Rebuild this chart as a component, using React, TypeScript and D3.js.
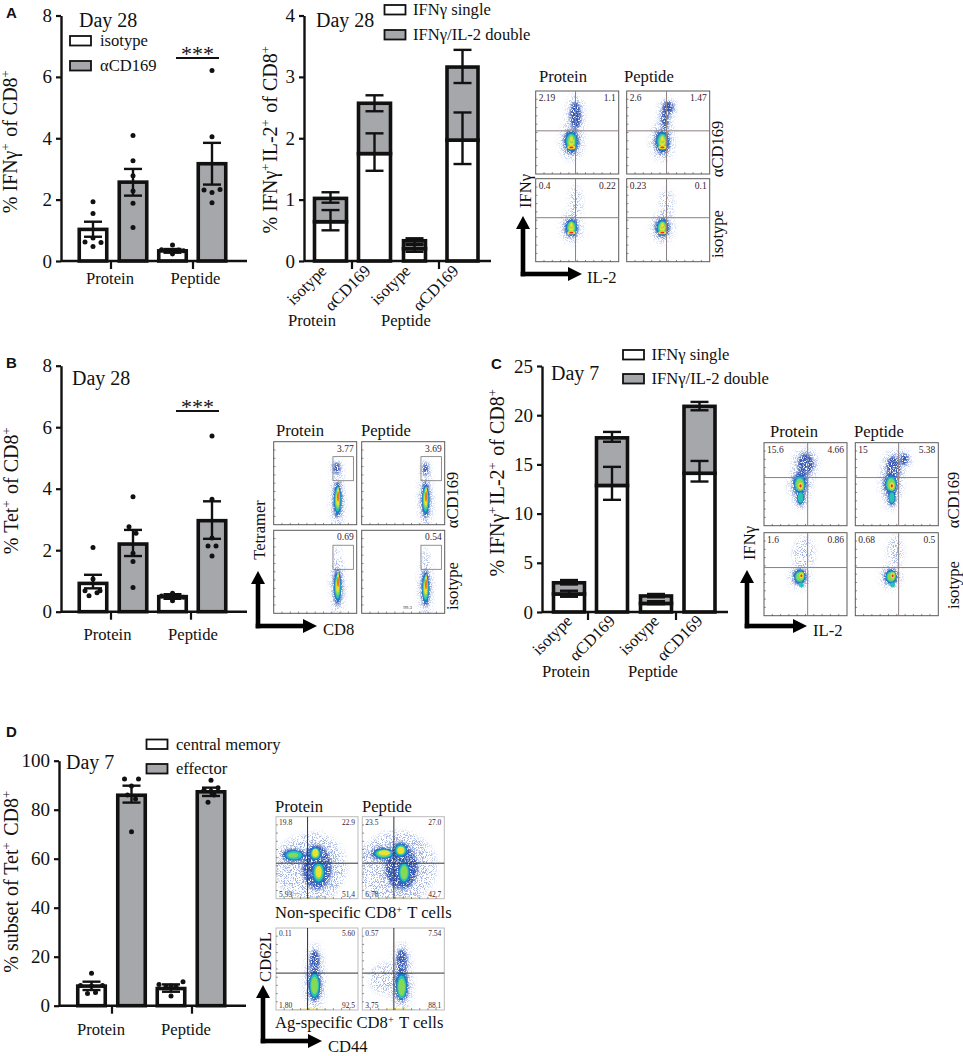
import React, { useEffect, useRef } from "react";
import * as d3 from "d3";

// ---------- data ----------
const groups = ["Protein", "Peptide"];
const barCats = ["isotype Protein", "aCD169 Protein", "isotype Peptide", "aCD169 Peptide"];
const stackedTicks = ["isotype", "αCD169", "isotype", "αCD169"];

const a1Means = [1.03, 2.57, 0.33, 3.17];
const a1Hi = [1.28, 3.0, 0.39, 3.85];
const a1Lo = [0.79, 2.13, 0.27, 2.49];
const a1Dots = [[1.93, 1.55, 0.62, 0.6, 0.47, 0.75], [4.09, 3.27, 2.78, 2.28, 1.88, 1.09], [0.52, 0.37, 0.34, 0.23, 0.36, 0.33], [6.21, 4.05, 2.31, 2.33, 2.23, 1.9]];
const a1Jit = [[0, 0, -8, 8, 0, 0], [0, 0, 0, 0, 0, 0], [0, -11, -6, 0, 6, 11], [0, 0, -8, 8, 0, 0]];

const a2Single = [0.64, 1.75, 0.2, 1.97];
const a2Total = [1.02, 2.57, 0.33, 3.16];
const a2SingleHi = [0.83, 2.08, 0.26, 2.42];
const a2SingleLo = [0.5, 1.47, 0.15, 1.58];
const a2TotalHi = [1.12, 2.7, 0.37, 3.44];
const a2TotalLo = [0.95, 2.44, 0.28, 2.9];

const b1Means = [0.92, 2.2, 0.49, 2.96];
const b1Hi = [1.2, 2.66, 0.57, 3.59];
const b1Lo = [0.76, 1.81, 0.42, 2.37];
const b1Dots = [[2.09, 1.06, 0.68, 0.68, 0.52, 0.62], [3.74, 2.76, 2.55, 1.9, 1.63, 0.79], [0.6, 0.51, 0.48, 0.36, 0.5, 0.47], [5.71, 3.66, 2.4, 2.14, 2.14, 1.81]];
const b1Jit = [[0, 0, -8, 7, -4, 4], [0, -4, 3, 0, 0, 0], [0, -11, -5, 0, 6, 11], [0, 0, 0, -4, 4, 0]];

const c1Single = [1.83, 12.86, 0.87, 14.1];
const c1Total = [2.97, 17.7, 1.63, 20.9];
const c1SingleHi = [2.16, 14.75, 1.1, 15.35];
const c1SingleLo = [1.55, 11.4, 0.8, 13.26];
const c1TotalHi = [3.25, 18.3, 1.83, 21.35];
const c1TotalLo = [2.8, 17.3, 1.5, 20.5];

const d1Means = [8, 85.9, 7, 87.3];
const d1Hi = [9.8, 89.8, 8.7, 89];
const d1Lo = [6.4, 82.9, 5.7, 85.6];
const d1Dots = [[13.2, 8.2, 8.2, 5, 5.4, 8], [92.5, 92.5, 89.7, 86, 84.4, 71], [8.7, 7.8, 7.8, 9.8, 4, 8], [92, 89, 88, 86, 83, 87.5]];
const d1Jit = [[0, 11, -11, -4, 4, 0], [-7, 7, 0, -4, 4, 0], [-12, -5, 5, 12, 0, 0], [0, 7, -7, 3, -3, 0]];

const tick8 = [0, 2, 4, 6, 8];
const tick4 = [0, 1, 2, 3, 4];
const tick25 = [0, 5, 10, 15, 20, 25];
const tick100 = [0, 20, 40, 60, 80, 100];

// flow plots: [centre x, centre y, radius x, radius y, density depth, first level] as a share of the plot
type Blob = number[];
type Flow = { tl?: string; tr?: string; bl?: string; br?: string; blobs: Blob[] };

const flowA: Flow[] = [
  { tl: "2.19", tr: "1.1", blobs: [[0.48, 0.3, 0.07, 0.17, 2], [0.43, 0.61, 0.095, 0.15, 6], [0.43, 0.58, 0.025, 0.05, 6, 4], [0.43, 0.68, 0.05, 0.022, 7, 5]] },
  { tl: "2.6", tr: "1.47", blobs: [[0.46, 0.34, 0.05, 0.14, 2], [0.5, 0.2, 0.065, 0.08, 2], [0.43, 0.61, 0.095, 0.15, 6], [0.43, 0.58, 0.025, 0.05, 6, 4], [0.43, 0.68, 0.05, 0.022, 7, 5]] },
  { tl: "0.4", tr: "0.22", blobs: [[0.48, 0.3, 0.05, 0.14, 1], [0.43, 0.59, 0.085, 0.12, 6], [0.43, 0.56, 0.025, 0.04, 6, 4], [0.43, 0.65, 0.05, 0.02, 7, 5]] },
  { tl: "0.23", tr: "0.1", blobs: [[0.48, 0.3, 0.05, 0.12, 1], [0.43, 0.59, 0.09, 0.12, 6], [0.43, 0.56, 0.025, 0.04, 6, 4], [0.43, 0.65, 0.05, 0.02, 7, 5]] },
];
const flowB: Flow[] = [
  { tr: "3.77", blobs: [[0.76, 0.32, 0.045, 0.07, 2], [0.77, 0.7, 0.055, 0.22, 6], [0.775, 0.66, 0.014, 0.12, 7, 5]] },
  { tr: "3.69", blobs: [[0.77, 0.33, 0.035, 0.08, 2], [0.77, 0.7, 0.055, 0.22, 6], [0.775, 0.66, 0.014, 0.12, 7, 5]] },
  { tr: "0.69", blobs: [[0.77, 0.35, 0.025, 0.12, 1], [0.77, 0.68, 0.055, 0.22, 6], [0.775, 0.62, 0.014, 0.12, 7, 5]] },
  { tr: "0.54", bl: "99.3", blobs: [[0.77, 0.35, 0.025, 0.1, 1], [0.77, 0.7, 0.055, 0.22, 6], [0.775, 0.65, 0.014, 0.12, 7, 5]] },
];
const flowC: Flow[] = [
  { tl: "15.6", tr: "4.66", blobs: [[0.5, 0.26, 0.1, 0.13, 2], [0.46, 0.4, 0.05, 0.1, 2], [0.43, 0.5, 0.09, 0.14, 5], [0.44, 0.66, 0.05, 0.1, 4], [0.44, 0.52, 0.04, 0.06, 7, 4]] },
  { tl: "15", tr: "5.38", blobs: [[0.46, 0.3, 0.09, 0.14, 2], [0.59, 0.2, 0.055, 0.07, 2], [0.43, 0.5, 0.09, 0.14, 5], [0.44, 0.66, 0.05, 0.1, 4], [0.44, 0.52, 0.04, 0.06, 7, 4]] },
  { tl: "1.6", tr: "0.86", blobs: [[0.48, 0.25, 0.08, 0.13, 1], [0.43, 0.53, 0.085, 0.1, 5], [0.45, 0.52, 0.035, 0.05, 7, 4], [0.45, 0.63, 0.03, 0.03, 4, 3]] },
  { tl: "0.68", tr: "0.5", blobs: [[0.48, 0.22, 0.06, 0.12, 1], [0.43, 0.53, 0.085, 0.1, 5], [0.45, 0.52, 0.035, 0.05, 7, 4], [0.45, 0.63, 0.03, 0.03, 4, 3]] },
];
const axisPile = [0.42, 0.995, 0.26, 0.012, 6, 5];
const flowD: Flow[] = [
  { tl: "19.8", tr: "22.9", bl: "5.93", br: "51.4", blobs: [[0.42, 0.62, 0.29, 0.27, 1], [0.5, 0.62, 0.18, 0.27, 2], [0.22, 0.47, 0.15, 0.08, 4], [0.52, 0.68, 0.1, 0.17, 5], [0.48, 0.45, 0.09, 0.1, 6], [0.21, 0.47, 0.06, 0.03, 5, 4], [0.52, 0.67, 0.035, 0.07, 6, 5], [0.48, 0.44, 0.035, 0.05, 6, 5], axisPile] },
  { tl: "23.5", tr: "27.0", bl: "6.78", br: "42.7", blobs: [[0.42, 0.62, 0.32, 0.29, 1], [0.48, 0.62, 0.2, 0.27, 2], [0.26, 0.45, 0.16, 0.08, 5], [0.51, 0.68, 0.09, 0.17, 5], [0.47, 0.41, 0.1, 0.1, 6], [0.27, 0.44, 0.07, 0.03, 6, 5], [0.47, 0.41, 0.04, 0.045, 6, 5], axisPile] },
  { tl: "0.11", tr: "5.60", bl: "1.80", br: "92.5", blobs: [[0.47, 0.42, 0.065, 0.15, 2], [0.47, 0.7, 0.085, 0.2, 3], [0.47, 0.7, 0.055, 0.14, 5, 3], axisPile] },
  { tl: "0.57", tr: "7.54", bl: "3.75", br: "88.1", blobs: [[0.3, 0.62, 0.14, 0.12, 1], [0.48, 0.42, 0.07, 0.16, 2], [0.48, 0.7, 0.085, 0.2, 3], [0.48, 0.72, 0.055, 0.14, 5, 3], axisPile] },
];

// ---------- style ----------
const SERIF = "'Liberation Serif', serif";
const GREY = "#a5a7aa";
const densityLevels = [
  { s: 1.5, c: "#9db0e0" },
  { s: 1.0, c: "#3556b2" },
  { s: 0.8, c: "#1d7cc8" },
  { s: 0.64, c: "#2cc3b4" },
  { s: 0.48, c: "#86d955" },
  { s: 0.32, c: "#f0e02e" },
  { s: 0.16, c: "#ee2a20" },
];

// ---------- pieces ----------
function Txt(p: any) {
  const { size = 16.6, children, ...r } = p;
  return <text fontFamily={SERIF} fontSize={size} fill="#111" {...r}>{children}</text>;
}
const Sup = ({ t, size = 20 }: { t: string; size?: number }) => (
  <>
    <tspan dy={-size * 0.33} fontSize={size * 0.62}>{t}</tspan>
    <tspan dy={size * 0.33}>{"\u200a"}</tspan>
  </>
);

function YAxis({ y, x, ticks, size = 19 }: any) {
  const ref = useRef<SVGGElement>(null);
  useEffect(() => {
    const g = d3.select(ref.current);
    g.call(d3.axisLeft(y).tickValues(ticks).tickSize(5).tickSizeOuter(0).tickPadding(4).tickFormat(d3.format("d")) as any);
    g.selectAll("path").attr("stroke", "#111").attr("stroke-width", 2.4);
    g.selectAll("line").attr("stroke", "#111").attr("stroke-width", 2.2);
    g.selectAll("text").attr("font-family", SERIF).attr("font-size", size).attr("fill", "#111");
  }, []);
  return <g ref={ref} transform={`translate(${x},0)`} />;
}

function Baseline({ y, x0, x1, divs }: any) {
  const y0 = y(0);
  return (
    <g stroke="#111">
      <line x1={x0} x2={x1} y1={y0} y2={y0} strokeWidth={2.4} />
      {divs.map((d: number) => <line key={d} x1={d} x2={d} y1={y0} y2={y0 + 8} strokeWidth={2.2} />)}
    </g>
  );
}

function ErrBar({ cx, y, hi, lo, cap = 9 }: any) {
  return (
    <g stroke="#111" strokeWidth={2.4}>
      <line x1={cx} x2={cx} y1={y(hi)} y2={y(lo)} />
      <line x1={cx - cap} x2={cx + cap} y1={y(hi)} y2={y(hi)} />
      <line x1={cx - cap} x2={cx + cap} y1={y(lo)} y2={y(lo)} />
    </g>
  );
}

function DotBars({ y, cx, w, means, hi, lo, dots, jit }: any) {
  return (
    <g>
      {means.map((m: number, i: number) => {
        const c = cx(barCats[i]);
        return (
          <g key={i}>
            <rect x={c - w / 2} width={w} y={y(m)} height={y(0) - y(m)} fill={i % 2 ? GREY : "#fff"} stroke="#111" strokeWidth={3.6} />
            <ErrBar cx={c} y={y} hi={hi[i]} lo={lo[i]} />
            {dots[i].map((d: number, k: number) => <circle key={k} cx={c + jit[i][k]} cy={y(d)} r={2.5} fill="#111" />)}
          </g>
        );
      })}
    </g>
  );
}

function StackBars({ y, cx, widths, single, total, sHi, sLo, tHi, tLo }: any) {
  return (
    <g>
      {single.map((s: number, i: number) => {
        const c = cx(barCats[i]);
        const w = widths[i];
        return (
          <g key={i}>
            <rect x={c - w / 2} width={w} y={y(s)} height={y(0) - y(s)} fill="#fff" stroke="#111" strokeWidth={3.6} />
            <rect x={c - w / 2} width={w} y={y(total[i])} height={y(s) - y(total[i])} fill={GREY} stroke="#111" strokeWidth={3.6} />
            <ErrBar cx={c} y={y} hi={sHi[i]} lo={sLo[i]} />
            <ErrBar cx={c} y={y} hi={tHi[i]} lo={tLo[i]} />
          </g>
        );
      })}
    </g>
  );
}

function Legend({ x, y1, y2, labels, tx, size = 16.6 }: any) {
  const rows = [y1, y2];
  return (
    <g>
      {labels.map((l: string, i: number) => (
        <g key={l}>
          <rect x={x} y={rows[i]} width={21} height={9.5} fill={i ? GREY : "#fff"} stroke="#111" strokeWidth={1.8} />
          <Txt x={tx} y={rows[i] + 10} size={size}>{l}</Txt>
        </g>
      ))}
    </g>
  );
}

function Signif({ x0, x1, y }: any) {
  return (
    <g>
      <line x1={x0} x2={x1} y1={y} y2={y} stroke="#111" strokeWidth={2} />
      <Txt x={(x0 + x1) / 2} y={y + 2.5} size={22} textAnchor="middle">***</Txt>
    </g>
  );
}

function RotLabel({ x, y, children, size = 20 }: any) {
  return <Txt size={size} transform={`translate(${x},${y}) rotate(-90)`} textAnchor="middle">{children}</Txt>;
}

function Arrow({ x, y0, top, right }: any) {
  return (
    <g fill="#000" stroke="none">
      <rect x={x - 2.3} y={top + 12} width={4.6} height={y0 - top - 9.7} />
      <rect x={x - 2.3} y={y0 - 2.3} width={right - x - 10} height={4.6} />
      <path d={`M${x},${top} L${x + 7},${top + 13} L${x - 7},${top + 13} Z`} />
      <path d={`M${right},${y0} L${right - 14},${y0 + 7} L${right - 14},${y0 - 7} Z`} />
    </g>
  );
}

let plotId = 0;
function FlowPlot({ x, y, w, h, gateX, gateY, gateBox, data, border = "#5a5a5a", gate = "#8b7f82", font = 9.5 }: any) {
  const id = useRef(`clip${plotId++}`).current;
  const sx = d3.scaleLinear().domain([0, 1]).range([x, x + w]);
  const sy = d3.scaleLinear().domain([0, 1]).range([y, y + h]);
  return (
    <g>
      <clipPath id={id}><rect x={x} y={y} width={w} height={h} /></clipPath>
      <rect x={x} y={y} width={w} height={h} fill="#fff" />
      <g clipPath={`url(#${id})`}>
        {data.blobs.map((b: Blob, i: number) => {
          const from = b[5] ?? 0;
          const core = b[5] !== undefined;
          const levels = densityLevels.slice(from, b[4]);
          const norm = densityLevels[from].s;
          return (
            <g key={i}>
              {levels.map((l, k) => (
                <ellipse key={k} cx={sx(b[0])} cy={sy(b[1])}
                  rx={(sx(b[2]) - x) * (core ? l.s / norm : l.s)} ry={(sy(b[3]) - y) * (core ? l.s / norm : l.s)}
                  fill={l.c}
                  filter={core ? "url(#soft)" : k === 0 ? "url(#speckle)" : k === 1 ? "url(#speckleDense)" : "url(#soft)"} />
              ))}
            </g>
          );
        })}
      </g>
      <rect x={x} y={y} width={w} height={h} fill="none" stroke={border} strokeWidth={1} />
      {sx.ticks(10).slice(1, -1).map((t) => <line key={t} x1={sx(t)} x2={sx(t)} y1={y + h} y2={y + h - 1.8} stroke="#444" strokeWidth={0.6} />)}
      {sy.ticks(10).slice(1, -1).map((t) => <line key={t} x1={x} x2={x + 1.8} y1={sy(t)} y2={sy(t)} stroke="#444" strokeWidth={0.6} />)}
      {gateBox ? (
        <rect x={sx(gateBox[0])} y={sy(gateBox[1])} width={sx(gateBox[2]) - sx(gateBox[0])} height={sy(gateBox[3]) - sy(gateBox[1])} fill="none" stroke="#777" strokeWidth={0.8} />
      ) : (
        <g stroke={gate} strokeWidth={1}>
          <line x1={sx(gateX)} x2={sx(gateX)} y1={y} y2={y + h} />
          <line x1={x} x2={x + w} y1={sy(gateY)} y2={sy(gateY)} />
        </g>
      )}
      <g fontFamily={SERIF} fontSize={font} fill="#3a2230">
        {data.tl && <text x={x + 3} y={y + font + 0.5}>{data.tl}</text>}
        {data.tr && <text x={x + w - 3} y={y + font + 0.5} textAnchor="end">{data.tr}</text>}
        {data.bl && !gateBox && <text x={x + 3} y={y + h - 2}>{data.bl}</text>}
        {data.bl && gateBox && <text x={sx(0.5)} y={y + h - 4} fontSize={5}>{data.bl}</text>}
        {data.br && <text x={x + w - 3} y={y + h - 2} textAnchor="end">{data.br}</text>}
      </g>
    </g>
  );
}

function FlowGrid({ xs, ys, w, h, flows, gateX, gateY, gateBox, gate, border, font }: any) {
  return (
    <g>
      {flows.map((f: Flow, i: number) => (
        <FlowPlot key={i} x={xs[i % 2]} y={ys[Math.floor(i / 2)]} w={w} h={h} data={f}
          gateX={gateX[i % 2]} gateY={gateY[Math.floor(i / 2)]} gateBox={gateBox} gate={gate} border={border} font={font} />
      ))}
    </g>
  );
}

function RotTicks({ cx, y, dx = 0 }: any) {
  return (
    <g>
      {stackedTicks.map((t, i) => (
        <Txt key={i} size={16.6} textAnchor="end" transform={`translate(${cx(barCats[i]) + dx},${y}) rotate(-45)`}>{t}</Txt>
      ))}
    </g>
  );
}

const Letter = ({ x, y, t }: any) => (
  <text x={x} y={y} fontFamily="'Liberation Sans', sans-serif" fontWeight={700} fontSize={15} fill="#111">{t}</text>
);

export default function App() {
  const yA1 = d3.scaleLinear().domain([0, 8]).range([261, 15.5]);
  const xA1 = d3.scaleOrdinal<string, number>().domain(barCats).range([93, 133, 172.5, 212]);
  const yA2 = d3.scaleLinear().domain([0, 4]).range([261, 15.5]);
  const xA2 = d3.scaleOrdinal<string, number>().domain(barCats).range([330.5, 374.5, 414.5, 462.5]);
  const yB = d3.scaleLinear().domain([0, 8]).range([611.7, 365.7]);
  const xB = d3.scaleOrdinal<string, number>().domain(barCats).range([93, 133, 172.5, 212]);
  const yC = d3.scaleLinear().domain([0, 25]).range([612, 366]);
  const xC = d3.scaleOrdinal<string, number>().domain(barCats).range([569, 612, 656, 699.5]);
  const yD = d3.scaleLinear().domain([0, 100]).range([1005.7, 760.7]);
  const xD = d3.scaleOrdinal<string, number>().domain(barCats).range([91.5, 131.5, 171, 211]);

  return (
    <svg width={963} height={1056} viewBox="0 0 963 1056" style={{ position: "absolute", left: 0, top: 0, background: "#fff" }}>
      <defs>
        <filter id="soft" x="-60%" y="-60%" width="220%" height="220%"><feGaussianBlur stdDeviation="0.7" /></filter>
        <filter id="speckle" x="-30%" y="-30%" width="160%" height="160%">
          <feGaussianBlur in="SourceGraphic" stdDeviation="3" result="b" />
          <feTurbulence type="fractalNoise" baseFrequency="1.1" numOctaves="2" seed="4" result="n" />
          <feColorMatrix in="n" type="matrix" values="0 0 0 0 0  0 0 0 0 0  0 0 0 0 0  0 0 0 9 -4.6" result="m" />
          <feComposite in="b" in2="m" operator="in" />
        </filter>
        <filter id="speckleDense" x="-30%" y="-30%" width="160%" height="160%">
          <feGaussianBlur in="SourceGraphic" stdDeviation="1.6" result="b" />
          <feTurbulence type="fractalNoise" baseFrequency="0.8" numOctaves="2" seed="9" result="n" />
          <feColorMatrix in="n" type="matrix" values="0 0 0 0 0  0 0 0 0 0  0 0 0 0 0  0 0 0 9 -3.4" result="m" />
          <feComposite in="b" in2="m" operator="in" />
        </filter>
      </defs>

      {/* Panel A */}
      <Letter x={6} y={18} t="A" />
      <YAxis y={yA1} x={61} ticks={tick8} />
      <DotBars y={yA1} cx={xA1} w={27.5} means={a1Means} hi={a1Hi} lo={a1Lo} dots={a1Dots} jit={a1Jit} />
      <Baseline y={yA1} x0={61} x1={247} divs={[111, 193]} />
      <RotLabel x={17} y={141}>% IFNγ<Sup t="+" /> of CD8<Sup t="+" /></RotLabel>
      <Txt x={110} y={284} textAnchor="middle">{groups[0]}</Txt>
      <Txt x={195.5} y={284} textAnchor="middle">{groups[1]}</Txt>
      <Txt x={79} y={27} size={20}>Day 28</Txt>
      <Legend x={70} y1={36} y2={61} tx={100} labels={["isotype", "αCD169"]} />
      <Signif x0={176} x1={219} y={58} />

      <YAxis y={yA2} x={304} ticks={tick4} />
      <StackBars y={yA2} cx={xA2} widths={[32, 32, 22, 31]} single={a2Single} total={a2Total} sHi={a2SingleHi} sLo={a2SingleLo} tHi={a2TotalHi} tLo={a2TotalLo} />
      <Baseline y={yA2} x0={304} x1={491} divs={[352, 439]} />
      <RotLabel x={277} y={139}>% IFNγ<Sup t="+" />IL-2<Sup t="+" /> of CD8<Sup t="+" /></RotLabel>
      <RotTicks cx={xA2} y={272} dx={-3} />
      <Txt x={288} y={326}>{groups[0]}</Txt>
      <Txt x={381} y={326}>{groups[1]}</Txt>
      <Txt x={316} y={27} size={20}>Day 28</Txt>
      <Legend x={384.5} y1={5} y2={30} tx={413} labels={["IFNγ single", "IFNγ/IL-2 double"]} />

      <FlowGrid xs={[535.7, 626.7]} ys={[91, 178.7]} w={83} h={83} flows={flowA} gateX={[0.48, 0.48]} gateY={[0.48, 0.47]} />
      <Txt x={539} y={82}>{groups[0]}</Txt>
      <Txt x={624} y={82}>{groups[1]}</Txt>
      <RotLabel x={723} y={149} size={16.6}>αCD169</RotLabel>
      <RotLabel x={723} y={234} size={16.6}>isotype</RotLabel>
      <RotLabel x={531} y={191} size={16.6}>IFNγ</RotLabel>
      <Arrow x={523} y0={274} top={216} right={582} />
      <Txt x={587} y={283}>IL-2</Txt>

      {/* Panel B */}
      <Letter x={6} y={368} t="B" />
      <YAxis y={yB} x={61} ticks={tick8} />
      <DotBars y={yB} cx={xB} w={27.5} means={b1Means} hi={b1Hi} lo={b1Lo} dots={b1Dots} jit={b1Jit} />
      <Baseline y={yB} x0={61} x1={247} divs={[111, 191]} />
      <RotLabel x={18} y={490}>% Tet<Sup t="+" /> of CD8<Sup t="+" /></RotLabel>
      <Txt x={107.5} y={640} textAnchor="middle">{groups[0]}</Txt>
      <Txt x={193} y={640} textAnchor="middle">{groups[1]}</Txt>
      <Txt x={72} y={385} size={20}>Day 28</Txt>
      <Signif x0={176} x1={219} y={411} />

      <FlowGrid xs={[273.7, 361.7]} ys={[441.7, 530.3]} w={83} h={83} flows={flowB} gateX={[0, 0]} gateY={[0, 0]} gateBox={[0.714, 0.18, 0.96, 0.47]} />
      <Txt x={276} y={436}>{groups[0]}</Txt>
      <Txt x={361} y={436}>{groups[1]}</Txt>
      <RotLabel x={458} y={500} size={16.6}>αCD169</RotLabel>
      <RotLabel x={458} y={586} size={16.6}>isotype</RotLabel>
      <RotLabel x={265} y={530} size={16.6}>Tetramer</RotLabel>
      <Arrow x={258} y0={626} top={571} right={317} />
      <Txt x={323} y={635}>CD8</Txt>

      {/* Panel C */}
      <Letter x={491} y={369} t="C" />
      <YAxis y={yC} x={542} ticks={tick25} />
      <StackBars y={yC} cx={xC} widths={[31, 31, 31, 31]} single={c1Single} total={c1Total} sHi={c1SingleHi} sLo={c1SingleLo} tHi={c1TotalHi} tLo={c1TotalLo} />
      <Baseline y={yC} x0={542} x1={728} divs={[588, 676]} />
      <RotLabel x={504} y={482}>% IFNγ<Sup t="+" />IL-2<Sup t="+" /> of CD8<Sup t="+" /></RotLabel>
      <RotTicks cx={xC} y={622} dx={4} />
      <Txt x={566} y={677} textAnchor="middle">{groups[0]}</Txt>
      <Txt x={653} y={677} textAnchor="middle">{groups[1]}</Txt>
      <Txt x={551} y={380} size={20}>Day 7</Txt>
      <Legend x={623} y1={350} y2={374} tx={651.5} labels={["IFNγ single", "IFNγ/IL-2 double"]} />

      <FlowGrid xs={[764, 855.3]} ys={[442.7, 532.7]} w={83} h={83} flows={flowC} gateX={[0.526, 0.522]} gateY={[0.42, 0.42]} />
      <Txt x={770} y={437}>{groups[0]}</Txt>
      <Txt x={854} y={437}>{groups[1]}</Txt>
      <RotLabel x={959} y={500} size={16.6}>αCD169</RotLabel>
      <RotLabel x={959} y={585} size={16.6}>isotype</RotLabel>
      <RotLabel x={755} y={543} size={16.6}>IFNγ</RotLabel>
      <Arrow x={747} y0={626} top={570} right={807} />
      <Txt x={813} y={636}>IL-2</Txt>

      {/* Panel D */}
      <Letter x={6} y={737} t="D" />
      <YAxis y={yD} x={59} ticks={tick100} />
      <DotBars y={yD} cx={xD} w={27.5} means={d1Means} hi={d1Hi} lo={d1Lo} dots={d1Dots} jit={d1Jit} />
      <Baseline y={yD} x0={59} x1={246} divs={[112, 192]} />
      <RotLabel x={18} y={881}>% subset of Tet<Sup t="+" /> CD8<Sup t="+" /></RotLabel>
      <Txt x={101} y={1035} textAnchor="middle">{groups[0]}</Txt>
      <Txt x={186} y={1035} textAnchor="middle">{groups[1]}</Txt>
      <Txt x={66} y={769} size={20}>Day 7</Txt>
      <Legend x={146.5} y1={739.5} y2={764} tx={176} labels={["central memory", "effector"]} />

      <FlowGrid xs={[276, 362.3]} ys={[816.7, 928]} w={82} h={82} flows={flowD} gateX={[0.385, 0.385]} gateY={[0.567, 0.55]} gate="#333" border="#bbb" font={7.5} />
      <Txt x={275} y={812}>{groups[0]}</Txt>
      <Txt x={362} y={812}>{groups[1]}</Txt>
      <Txt x={275} y={918}>Non-specific CD8<Sup t="+" size={16.6} /> T cells</Txt>
      <Txt x={275} y={1028}>Ag-specific CD8<Sup t="+" size={16.6} /> T cells</Txt>
      <RotLabel x={271} y={957} size={16.6}>CD62L</RotLabel>
      <Arrow x={263} y0={1041} top={985} right={322} />
      <Txt x={328} y={1052}>CD44</Txt>
    </svg>
  );
}
